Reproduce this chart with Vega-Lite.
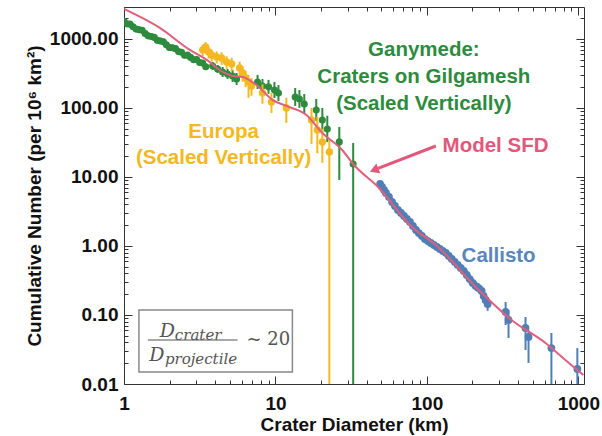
{
"$schema": "https://vega.github.io/schema/vega-lite/v6.json",
"width": 460, "height": 377,
"autosize": {"type": "none"},
"padding": {"left": 124, "top": 7, "right": 18, "bottom": 52},
"background": "white",
"config": {
  "view": {"stroke": "#333", "strokeWidth": 1},
  "axis": {"grid": false, "domain": false, "labelFont": "Liberation Sans", "labelFontWeight": "bold", "labelFontSize": 19, "labelColor": "#111", "titleFont": "Liberation Sans", "titleFontWeight": "bold", "titleFontSize": 19, "titleColor": "#111", "tickColor": "#333", "tickWidth": 1}
},
"datasets": {
  "model": [
    {"D":1.0,"N":2721},{"D":1.726,"N":1443},{"D":2.72,"N":693},{"D":3.52,"N":496},{"D":4.48,"N":332},{"D":5.21,"N":291},{"D":6.07,"N":281},{"D":7.5,"N":215},{"D":9.55,"N":131},{"D":12.4,"N":103},{"D":16.0,"N":79.2},{"D":20.4,"N":43.4},{"D":27.6,"N":24.6},{"D":32.6,"N":15.4},{"D":48.3,"N":6.93},{"D":79.7,"N":1.885},{"D":114.6,"N":1.034},{"D":220,"N":0.23},{"D":362,"N":0.0846},{"D":607,"N":0.0393},{"D":821,"N":0.0223},{"D":1079,"N":0.0135}
  ],
  "green": [
    {"D":1.0,"N":1803,"lo":1620,"hi":2000},{"D":1.047,"N":1652,"lo":1490,"hi":1830},{"D":1.096,"N":1637,"lo":1470,"hi":1820},{"D":1.148,"N":1500,"lo":1350,"hi":1670},{"D":1.202,"N":1390,"lo":1250,"hi":1540},{"D":1.259,"N":1361,"lo":1220,"hi":1510},{"D":1.318,"N":1337,"lo":1200,"hi":1480},{"D":1.38,"N":1194,"lo":1075,"hi":1325},{"D":1.445,"N":1107,"lo":996,"hi":1229},{"D":1.514,"N":1086,"lo":977,"hi":1205},{"D":1.585,"N":1052,"lo":947,"hi":1168},{"D":1.66,"N":953,"lo":858,"hi":1058},{"D":1.738,"N":935,"lo":842,"hi":1038},{"D":1.82,"N":906,"lo":815,"hi":1006},{"D":1.905,"N":820,"lo":738,"hi":910},{"D":1.995,"N":752,"lo":677,"hi":835},{"D":2.089,"N":745,"lo":670,"hi":827},{"D":2.188,"N":723,"lo":651,"hi":803},{"D":2.291,"N":655,"lo":590,"hi":727},{"D":2.399,"N":641,"lo":577,"hi":712},{"D":2.512,"N":581,"lo":523,"hi":645},{"D":2.63,"N":582,"lo":524,"hi":646},{"D":2.754,"N":540,"lo":486,"hi":599},{"D":2.884,"N":500,"lo":450,"hi":555},{"D":3.02,"N":501,"lo":451,"hi":556},{"D":3.162,"N":454,"lo":409,"hi":504},{"D":3.311,"N":446,"lo":401,"hi":495},{"D":3.467,"N":394,"lo":355,"hi":437},
    {"D":3.85,"N":406,"lo":355,"hi":464},{"D":4.15,"N":367,"lo":321,"hi":419},{"D":4.48,"N":332,"lo":281,"hi":392},{"D":4.83,"N":311,"lo":263,"hi":368},{"D":5.21,"N":291,"lo":238,"hi":356},{"D":5.54,"N":263,"lo":215,"hi":321},{"D":7.62,"N":238,"lo":188,"hi":301},{"D":8.21,"N":208,"lo":165,"hi":263},{"D":9.0,"N":202,"lo":160,"hi":255},{"D":9.85,"N":182,"lo":139,"hi":238},{"D":10.47,"N":165,"lo":126,"hi":215},{"D":13.5,"N":144,"lo":107,"hi":194},{"D":14.4,"N":135,"lo":100,"hi":182},{"D":15.5,"N":114,"lo":82,"hi":159},{"D":18.6,"N":93.5,"lo":65,"hi":135},{"D":20.4,"N":67.0,"lo":45,"hi":100},{"D":22.0,"N":49.6,"lo":32,"hi":77},{"D":26.4,"N":32.2,"lo":9.05,"hi":53},{"D":32.6,"N":15.4,"lo":0.001,"hi":31.1}
  ],
  "yellow": [
    {"D":3.31,"N":693,"lo":560,"hi":820},{"D":3.46,"N":766,"lo":620,"hi":900},{"D":3.62,"N":648,"lo":520,"hi":770},{"D":3.79,"N":586,"lo":470,"hi":700},{"D":4.09,"N":548,"lo":440,"hi":660},{"D":4.41,"N":530,"lo":420,"hi":640},{"D":4.76,"N":464,"lo":370,"hi":560},{"D":5.14,"N":434,"lo":340,"hi":530},{"D":5.8,"N":380,"lo":290,"hi":470},{"D":6.07,"N":322,"lo":240,"hi":400},{"D":6.35,"N":272,"lo":200,"hi":345},{"D":6.64,"N":238,"lo":140,"hi":300},{"D":6.95,"N":208,"lo":150,"hi":270},{"D":8.21,"N":165,"lo":115,"hi":220},{"D":9.41,"N":122,"lo":84.6,"hi":165},{"D":11.8,"N":100,"lo":60.6,"hi":140},{"D":17.3,"N":67.0,"lo":30,"hi":100},{"D":18.9,"N":48.0,"lo":22,"hi":75},{"D":20.4,"N":32.2,"lo":16,"hi":50},{"D":22.7,"N":23.0,"lo":0.001,"hi":34.4}
  ],
  "blue": [
    {"D":49.1,"N":7.92,"lo":7.47,"hi":8.4},{"D":50.6,"N":7.16,"lo":6.75,"hi":7.59},{"D":52.1,"N":6.48,"lo":6.11,"hi":6.87},{"D":53.7,"N":5.86,"lo":5.53,"hi":6.21},{"D":56.2,"N":5.13,"lo":4.84,"hi":5.44},{"D":58.9,"N":4.34,"lo":4.09,"hi":4.6},{"D":61.5,"N":3.8,"lo":3.58,"hi":4.03},{"D":64.4,"N":3.32,"lo":3.13,"hi":3.52},{"D":67.5,"N":3.01,"lo":2.84,"hi":3.19},{"D":70.6,"N":2.72,"lo":2.57,"hi":2.88},{"D":73.8,"N":2.46,"lo":2.32,"hi":2.61},{"D":77.3,"N":2.23,"lo":2.1,"hi":2.36},{"D":80.9,"N":1.95,"lo":1.84,"hi":2.07},{"D":84.7,"N":1.71,"lo":1.61,"hi":1.81},{"D":88.5,"N":1.54,"lo":1.45,"hi":1.63},{"D":92.7,"N":1.4,"lo":1.32,"hi":1.48},{"D":97.0,"N":1.26,"lo":1.19,"hi":1.34},{"D":101.6,"N":1.18,"lo":1.11,"hi":1.25},{"D":106.2,"N":1.105,"lo":1.04,"hi":1.17},{"D":111.2,"N":1.034,"lo":0.975,"hi":1.096},{"D":116.4,"N":0.967,"lo":0.879,"hi":1.064},{"D":121.8,"N":0.905,"lo":0.823,"hi":0.996},{"D":127.4,"N":0.846,"lo":0.769,"hi":0.931},{"D":133.4,"N":0.792,"lo":0.72,"hi":0.871},{"D":139.6,"N":0.716,"lo":0.651,"hi":0.788},{"D":146.0,"N":0.648,"lo":0.589,"hi":0.713},{"D":152.8,"N":0.586,"lo":0.533,"hi":0.645},{"D":159.9,"N":0.53,"lo":0.482,"hi":0.583},{"D":167.3,"N":0.48,"lo":0.436,"hi":0.528},{"D":175.1,"N":0.434,"lo":0.395,"hi":0.477},{"D":183.3,"N":0.38,"lo":0.325,"hi":0.445},{"D":191.8,"N":0.332,"lo":0.284,"hi":0.388},{"D":200.7,"N":0.291,"lo":0.249,"hi":0.34},{"D":210.0,"N":0.263,"lo":0.225,"hi":0.308},{"D":219.8,"N":0.246,"lo":0.21,"hi":0.288},{"D":230.0,"N":0.223,"lo":0.191,"hi":0.261},{"D":237.0,"N":0.188,"lo":0.15,"hi":0.235},{"D":244.2,"N":0.165,"lo":0.132,"hi":0.206},{"D":251.8,"N":0.144,"lo":0.115,"hi":0.18},
    {"D":331,"N":0.1105,"lo":0.0716,"hi":0.154},{"D":346,"N":0.0846,"lo":0.0464,"hi":0.118},{"D":448,"N":0.0648,"lo":0.0311,"hi":0.0935},{"D":469,"N":0.048,"lo":0.0202,"hi":0.0606},{"D":664,"N":0.0332,"lo":0.001,"hi":0.0548},{"D":985,"N":0.0165,"lo":0.001,"hi":0.0332}
  ]
},
"layer": [
  {"data": {"name": "model"}, "mark": {"type": "point", "opacity": 0},
   "encoding": {
     "x": {"field": "D", "type": "quantitative", "scale": {"type": "log", "domain": [1, 1090], "nice": false}, "axis": {"orient": "bottom", "values": [1, 10, 100, 1000], "format": "d", "ticks": false, "labelPadding": 10, "labelFlush": false, "labelOverlap": false, "title": "Crater Diameter (km)", "titlePadding": 2}},
     "y": {"field": "N", "type": "quantitative", "scale": {"type": "log", "domain": [0.01, 2900], "nice": false}, "axis": {"orient": "left", "values": [0.01, 0.1, 1, 10, 100, 1000], "format": ".2f", "ticks": false, "labelPadding": 6, "labelFlush": false, "labelOverlap": false, "title": "Cumulative Number (per 10⁶ km²)", "titlePadding": 5}}
   }},
  {"data": {"name": "model"}, "mark": {"type": "point", "opacity": 0},
   "encoding": {
     "x": {"field": "D", "type": "quantitative", "axis": {"orient": "bottom", "offset": -8, "values": [1, 10, 100, 1000], "labels": false, "tickSize": 8, "title": null}},
     "y": {"field": "N", "type": "quantitative", "axis": {"orient": "left", "offset": -8, "values": [0.01, 0.1, 1, 10, 100, 1000], "labels": false, "tickSize": 8, "title": null}}
   }},
  {"data": {"name": "model"}, "mark": {"type": "point", "opacity": 0},
   "encoding": {
     "x": {"field": "D", "type": "quantitative", "axis": {"orient": "bottom", "offset": -4, "values": [2,3,4,5,6,7,8,9,20,30,40,50,60,70,80,90,200,300,400,500,600,700,800,900], "labels": false, "tickSize": 4, "title": null}},
     "y": {"field": "N", "type": "quantitative", "axis": {"orient": "left", "offset": -4, "values": [0.02,0.03,0.04,0.05,0.06,0.07,0.08,0.09,0.2,0.3,0.4,0.5,0.6,0.7,0.8,0.9,2,3,4,5,6,7,8,9,20,30,40,50,60,70,80,90,200,300,400,500,600,700,800,900,2000], "labels": false, "tickSize": 4, "title": null}}
   }},
  {"data": {"name": "model"}, "mark": {"type": "point", "opacity": 0},
   "encoding": {
     "x": {"field": "D", "type": "quantitative", "axis": {"orient": "top", "offset": -8, "values": [1, 10, 100, 1000], "labels": false, "tickSize": 8, "title": null}},
     "y": {"field": "N", "type": "quantitative", "axis": {"orient": "right", "offset": -8, "values": [0.01, 0.1, 1, 10, 100, 1000], "labels": false, "tickSize": 8, "title": null}}
   }},
  {"data": {"name": "model"}, "mark": {"type": "point", "opacity": 0},
   "encoding": {
     "x": {"field": "D", "type": "quantitative", "axis": {"orient": "top", "offset": -4, "values": [2,3,4,5,6,7,8,9,20,30,40,50,60,70,80,90,200,300,400,500,600,700,800,900], "labels": false, "tickSize": 4, "title": null}},
     "y": {"field": "N", "type": "quantitative", "axis": {"orient": "right", "offset": -4, "values": [0.02,0.03,0.04,0.05,0.06,0.07,0.08,0.09,0.2,0.3,0.4,0.5,0.6,0.7,0.8,0.9,2,3,4,5,6,7,8,9,20,30,40,50,60,70,80,90,200,300,400,500,600,700,800,900,2000], "labels": false, "tickSize": 4, "title": null}}
   }},
  {"data": {"values": [{"x1": 1.255, "x2": 12.94, "y1": 0.0149, "y2": 0.118}]},
   "mark": {"type": "rect", "fill": "white", "stroke": "#888", "strokeWidth": 1.5},
   "encoding": {"x": {"field": "x1", "type": "quantitative", "axis": null}, "x2": {"field": "x2"}, "y": {"field": "y1", "type": "quantitative", "axis": null}, "y2": {"field": "y2"}}},
  {"data": {"name": "green"}, "mark": {"type": "rule", "color": "#2e8b3e", "strokeWidth": 2, "clip": true},
   "encoding": {"x": {"field": "D", "type": "quantitative", "axis": null}, "y": {"field": "lo", "type": "quantitative", "axis": null}, "y2": {"field": "hi"}}},
  {"data": {"name": "green"}, "mark": {"type": "circle", "color": "#2e8b3e", "size": 50, "opacity": 1, "clip": true},
   "encoding": {"x": {"field": "D", "type": "quantitative", "axis": null}, "y": {"field": "N", "type": "quantitative", "axis": null}}},
  {"data": {"name": "yellow"}, "mark": {"type": "rule", "color": "#f5b820", "strokeWidth": 2, "clip": true},
   "encoding": {"x": {"field": "D", "type": "quantitative", "axis": null}, "y": {"field": "lo", "type": "quantitative", "axis": null}, "y2": {"field": "hi"}}},
  {"data": {"name": "yellow"}, "mark": {"type": "circle", "color": "#f5b820", "size": 55, "opacity": 1, "clip": true},
   "encoding": {"x": {"field": "D", "type": "quantitative", "axis": null}, "y": {"field": "N", "type": "quantitative", "axis": null}}},
  {"data": {"name": "blue"}, "mark": {"type": "rule", "color": "#4f7fb6", "strokeWidth": 2, "clip": true},
   "encoding": {"x": {"field": "D", "type": "quantitative", "axis": null}, "y": {"field": "lo", "type": "quantitative", "axis": null}, "y2": {"field": "hi"}}},
  {"data": {"name": "blue"}, "mark": {"type": "circle", "color": "#4f7fb6", "size": 60, "opacity": 1, "clip": true},
   "encoding": {"x": {"field": "D", "type": "quantitative", "axis": null}, "y": {"field": "N", "type": "quantitative", "axis": null}}},
  {"data": {"name": "model"}, "mark": {"type": "line", "color": "#e0607c", "strokeWidth": 2, "interpolate": "monotone", "clip": true},
   "encoding": {"x": {"field": "D", "type": "quantitative", "axis": null}, "y": {"field": "N", "type": "quantitative", "axis": null}}},
  {"data": {"values": [{"D": 95.5, "N": 693, "t": "Ganymede:"}, {"D": 95.5, "N": 281, "t": "Craters on Gilgamesh"}, {"D": 95.5, "N": 114, "t": "(Scaled Vertically)"}]},
   "mark": {"type": "text", "color": "#2e8b3e", "font": "Liberation Sans", "fontWeight": "bold", "fontSize": 20.5, "align": "center", "baseline": "middle"},
   "encoding": {"x": {"field": "D", "type": "quantitative", "axis": null}, "y": {"field": "N", "type": "quantitative", "axis": null}, "text": {"field": "t"}}},
  {"data": {"values": [{"D": 4.55, "N": 44.9, "t": "Europa"}, {"D": 4.55, "N": 18.9, "t": "(Scaled Vertically)"}]},
   "mark": {"type": "text", "color": "#f5b820", "font": "Liberation Sans", "fontWeight": "bold", "fontSize": 20.5, "align": "center", "baseline": "middle"},
   "encoding": {"x": {"field": "D", "type": "quantitative", "axis": null}, "y": {"field": "N", "type": "quantitative", "axis": null}, "text": {"field": "t"}}},
  {"data": {"values": [{"D": 284, "N": 28.1, "t": "Model SFD"}]},
   "mark": {"type": "text", "color": "#e3587a", "font": "Liberation Sans", "fontWeight": "bold", "fontSize": 20.5, "align": "center", "baseline": "middle"},
   "encoding": {"x": {"field": "D", "type": "quantitative", "axis": null}, "y": {"field": "N", "type": "quantitative", "axis": null}, "text": {"field": "t"}}},
  {"data": {"values": [{"xa": 114.6, "ya": 28.1, "xb": 47.6, "yb": 13.3}]},
   "mark": {"type": "rule", "color": "#e3587a", "strokeWidth": 3},
   "encoding": {"x": {"field": "xa", "type": "quantitative", "axis": null}, "y": {"field": "ya", "type": "quantitative", "axis": null}, "x2": {"field": "xb"}, "y2": {"field": "yb"}}},
  {"data": {"values": [{"D": 44.8, "N": 12.6}]},
   "mark": {"type": "point", "shape": "triangle-right", "angle": 158, "filled": true, "size": 110, "color": "#e3587a", "opacity": 1},
   "encoding": {"x": {"field": "D", "type": "quantitative", "axis": null}, "y": {"field": "N", "type": "quantitative", "axis": null}}},
  {"data": {"values": [{"D": 297.6, "N": 0.716, "t": "Callisto"}]},
   "mark": {"type": "text", "color": "#5a87bb", "font": "Liberation Sans", "fontWeight": "bold", "fontSize": 20.5, "align": "center", "baseline": "middle"},
   "encoding": {"x": {"field": "D", "type": "quantitative", "axis": null}, "y": {"field": "N", "type": "quantitative", "axis": null}, "text": {"field": "t"}}},
  {"data": {"values": [{"D": 1.725, "N": 0.0586, "t": "D"}, {"D": 1.468, "N": 0.0263, "t": "D"}]},
   "mark": {"type": "text", "color": "#555", "font": "DejaVu Serif", "fontStyle": "italic", "fontSize": 19, "align": "left", "baseline": "middle"},
   "encoding": {"x": {"field": "D", "type": "quantitative", "axis": null}, "y": {"field": "N", "type": "quantitative", "axis": null}, "text": {"field": "t"}}},
  {"data": {"values": [{"D": 2.166, "N": 0.0513, "t": "crater"}, {"D": 1.862, "N": 0.023, "t": "projectile"}]},
   "mark": {"type": "text", "color": "#555", "font": "DejaVu Serif", "fontStyle": "italic", "fontSize": 15, "align": "left", "baseline": "middle"},
   "encoding": {"x": {"field": "D", "type": "quantitative", "axis": null}, "y": {"field": "N", "type": "quantitative", "axis": null}, "text": {"field": "t"}}},
  {"data": {"values": [{"D": 6.44, "N": 0.0434, "t": "~ 20"}]},
   "mark": {"type": "text", "color": "#555", "font": "DejaVu Serif", "fontSize": 18, "align": "left", "baseline": "middle"},
   "encoding": {"x": {"field": "D", "type": "quantitative", "axis": null}, "y": {"field": "N", "type": "quantitative", "axis": null}, "text": {"field": "t"}}},
  {"data": {"values": [{"xa": 1.438, "xb": 5.62, "ya": 0.0434}]},
   "mark": {"type": "rule", "color": "#555", "strokeWidth": 1.2},
   "encoding": {"x": {"field": "xa", "type": "quantitative", "axis": null}, "x2": {"field": "xb"}, "y": {"field": "ya", "type": "quantitative", "axis": null}}}
],
"resolve": {"axis": {"x": "independent", "y": "independent"}}
}
